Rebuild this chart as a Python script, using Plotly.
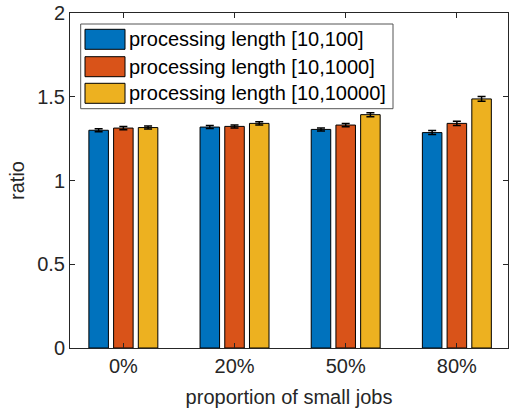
import plotly.graph_objects as go

categories = ["0%", "20%", "50%", "80%"]
series_names = ["processing length [10,100]",
                "processing length [10,1000]",
                "processing length [10,10000]"]
values_100 = [1.300, 1.319, 1.305, 1.286]
values_1000 = [1.313, 1.323, 1.331, 1.341]
values_10000 = [1.316, 1.341, 1.393, 1.487]
err_100 = [0.009, 0.009, 0.009, 0.012]
err_1000 = [0.010, 0.009, 0.010, 0.013]
err_10000 = [0.009, 0.010, 0.012, 0.014]
y_ticks = [0, 0.5, 1, 1.5, 2]
y_ticklabels = ["0", "0.5", "1", "1.5", "2"]

colors = ["#0072BD", "#D95319", "#EDB120"]
text_color = "#262626"
font_family = "Liberation Sans, Arial, Helvetica, sans-serif"

W, H = 510, 409
L, R, T, B = 70, 2, 13, 61
pw, ph = W - L - R, H - T - B

def px(x):
    return (x - L) / pw

def py(y):
    return (H - B - y) / ph

fig = go.Figure()
all_vals = [values_100, values_1000, values_10000]
all_errs = [err_100, err_1000, err_10000]
for name, vals, errs, col in zip(series_names, all_vals, all_errs, colors):
    fig.add_trace(go.Bar(
        x=categories, y=vals, name=name,
        marker=dict(color=col, line=dict(color="#000000", width=1)),
        error_y=dict(type="data", array=errs, visible=True,
                     color="#000000", thickness=1.5, width=4),
        showlegend=False,
    ))

# custom legend (MATLAB-style with large swatches)
shapes = [dict(type="rect", xref="paper", yref="paper",
               x0=px(80.7), x1=px(393), y0=py(108.7), y1=py(24),
               line=dict(color="#555555", width=1), fillcolor="white", layer="above")]
annotations = []
row_tops = [29.3, 56.7, 83.3]
for name, col, top in zip(series_names, colors, row_tops):
    shapes.append(dict(type="rect", xref="paper", yref="paper",
                       x0=px(85), x1=px(125), y0=py(top + 20), y1=py(top),
                       line=dict(color="#000000", width=1), fillcolor=col, layer="above"))
    annotations.append(dict(xref="paper", yref="paper", x=px(127), y=py(top + 10),
                            text=name, showarrow=False, xanchor="left", yanchor="middle",
                            font=dict(size=20, color="#000000", family=font_family)))

fig.update_layout(
    width=W, height=H,
    margin=dict(l=L, r=R, t=T, b=B, pad=0, autoexpand=False),
    paper_bgcolor="white", plot_bgcolor="white",
    barmode="group", bargap=0.333, bargroupgap=0.21,
    font=dict(family=font_family, size=20, color=text_color),
    shapes=shapes, annotations=annotations,
    hovermode=False,
    xaxis=dict(
        type="category", range=[-0.48, 3.46], automargin=False,
        showline=True, linecolor=text_color, linewidth=1, mirror="ticks",
        ticks="inside", ticklen=5, tickcolor=text_color, tickwidth=1,
        tickfont=dict(size=20, color=text_color),
        title=dict(text="proportion of small jobs", standoff=13,
                   font=dict(size=20, color=text_color)),
        showgrid=False, zeroline=False,
    ),
    yaxis=dict(
        range=[0, 2], tickvals=y_ticks, ticktext=y_ticklabels, automargin=False,
        showline=True, linecolor=text_color, linewidth=1, mirror="ticks",
        ticks="inside", ticklen=5, tickcolor=text_color, tickwidth=1,
        tickfont=dict(size=20, color=text_color),
        ticklabeloverflow="allow",
        title=dict(text="ratio", standoff=7, font=dict(size=20, color=text_color)),
        showgrid=False, zeroline=False,
    ),
)

fig.write_html(
    "out.html",
    config={"displayModeBar": False, "staticPlot": True},
    post_script="document.body.style.margin='0px';document.body.style.overflow='hidden';",
)
